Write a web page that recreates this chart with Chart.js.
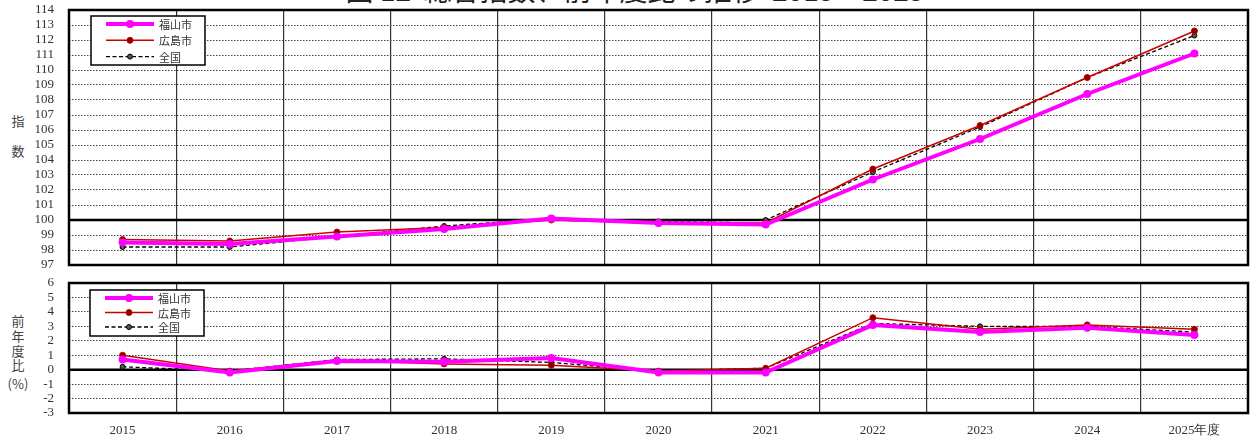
<!DOCTYPE html>
<html>
<head>
<meta charset="utf-8">
<script src="https://cdn.jsdelivr.net/npm/chart.js@4"></script>
<style>
  body { margin: 0; background: #fff; width: 1250px; height: 437px; overflow: hidden; position: relative; }
  canvas { position: absolute; left: 0; }
  .title { position: absolute; left: 10px; width: 1250px; top: -31px; line-height: 40px; text-align: center; font-size: 28px; font-family: "Noto Sans CJK JP", serif; color: #222; white-space: pre; }
  .ylab { position: absolute; left: 10px; width: 16px; text-align: center; font: 13px "Noto Sans CJK JP", sans-serif; color: #444; }
</style>
</head>
<body>
<div class="title">図 12  総合指数、前年度比の推移  2015～2025</div>
<div class="ylab" style="top:111px">指</div>
<div class="ylab" style="top:141px">数</div>
<div class="ylab" style="top:311px">前</div>
<div class="ylab" style="top:326px">年</div>
<div class="ylab" style="top:341px">度</div>
<div class="ylab" style="top:355px">比</div>
<div class="ylab" style="top:374px;left:4px;width:28px">(%)</div>
<canvas id="index-chart" width="1250" height="270" style="top:0"></canvas>
<canvas id="rate-chart" width="1250" height="167" style="top:270px"></canvas>
<script>
const years = ['2015', '2016', '2017', '2018', '2019', '2020', '2021', '2022', '2023', '2024', '2025年度'];
const seriesNames = ['福山市', '広島市', '全国'];

// 総合指数
const fukuyamaIndex = [98.5, 98.4, 98.9, 99.4, 100.1, 99.8, 99.7, 102.7, 105.4, 108.4, 111.1];
const hiroshimaIndex = [98.7, 98.6, 99.2, 99.5, 100.0, 99.8, 99.8, 103.4, 106.3, 109.5, 112.6];
const nationalIndex = [98.2, 98.2, 98.9, 99.6, 100.1, 99.9, 100.0, 103.2, 106.2, 109.5, 112.3];

// 前年度比 (%)
const fukuyamaRate = [0.7, -0.2, 0.6, 0.55, 0.8, -0.2, -0.2, 3.1, 2.6, 2.9, 2.4];
const hiroshimaRate = [1.0, -0.1, 0.65, 0.4, 0.3, -0.1, 0.1, 3.6, 2.8, 3.1, 2.8];
const nationalRate = [0.2, -0.1, 0.7, 0.75, 0.5, -0.1, 0.1, 3.2, 3.0, 3.0, 2.6];

const tickFont = { family: '"Liberation Serif", "DejaVu Serif", serif', size: 13 };

function makeDatasets(a, b, c) {
    return [
        {
            label: seriesNames[0], data: a,
            borderColor: '#ff00ff', backgroundColor: '#ff00ff',
            borderWidth: 4, pointRadius: 4, pointBorderWidth: 0, pointBackgroundColor: '#ff00ff'
        },
        {
            label: seriesNames[1], data: b,
            borderColor: '#cc0000', backgroundColor: '#cc0000',
            borderWidth: 1.5, pointRadius: 3, pointBorderWidth: 1,
            pointBackgroundColor: '#800000', pointBorderColor: '#cc0000'
        },
        {
            label: seriesNames[2], data: c,
            borderColor: '#000', backgroundColor: '#000',
            borderWidth: 1.3, borderDash: [4, 2.5], pointRadius: 2.5, pointBorderWidth: 1,
            pointBackgroundColor: '#555', pointBorderColor: '#000'
        }
    ];
}

// frame, base line and the boxed legend inside the plot
const framePlugin = {
    id: 'frame',
    beforeDatasetsDraw(chart, args, opts) {
        const { ctx, chartArea: a } = chart;
        const py = chart.scales.y.getPixelForValue(opts.baseLine);
        ctx.save();
        ctx.strokeStyle = '#000';
        ctx.lineWidth = 2.5;
        ctx.beginPath();
        ctx.moveTo(a.left, py);
        ctx.lineTo(a.right, py);
        ctx.stroke();
        ctx.strokeRect(a.left, a.top, a.right - a.left, a.bottom - a.top);
        ctx.restore();
    },
    afterDatasetsDraw(chart, args, opts) {
        const { ctx, chartArea: a } = chart;
        const bx = a.left + opts.x, by = a.top + opts.y;
        ctx.save();
        ctx.fillStyle = '#fff';
        ctx.fillRect(bx, by, opts.w, opts.h);
        ctx.strokeStyle = '#000';
        ctx.lineWidth = 1.5;
        ctx.strokeRect(bx, by, opts.w, opts.h);
        chart.data.datasets.forEach((ds, i) => {
            const ly = by + opts.firstRow + i * opts.rowH;
            const x1 = bx + 15, x2 = bx + 63;
            ctx.strokeStyle = ds.borderColor;
            ctx.lineWidth = ds.borderWidth;
            ctx.setLineDash(ds.borderDash || []);
            ctx.beginPath();
            ctx.moveTo(x1, ly);
            ctx.lineTo(x2, ly);
            ctx.stroke();
            ctx.setLineDash([]);
            ctx.beginPath();
            ctx.arc((x1 + x2) / 2, ly, ds.pointRadius, 0, Math.PI * 2);
            ctx.fillStyle = ds.pointBackgroundColor;
            ctx.fill();
            if (ds.pointBorderWidth) {
                ctx.lineWidth = ds.pointBorderWidth;
                ctx.strokeStyle = ds.pointBorderColor;
                ctx.stroke();
            }
            ctx.fillStyle = '#333';
            ctx.font = '11px "Noto Sans CJK JP", sans-serif';
            ctx.textBaseline = 'middle';
            ctx.fillText(ds.label, x2 + 5, ly + 1);
        });
        ctx.restore();
    }
};

function makeChart(canvasId, data, yMin, yMax, baseLine, showLabels, padding, legendBox) {
    const ctx = document.getElementById(canvasId).getContext('2d');
    return new Chart(ctx, {
        type: 'line',
        data: { labels: years, datasets: data },
        plugins: [framePlugin],
        options: {
            responsive: false,
            animation: false,
            layout: { padding: padding, autoPadding: false },
            plugins: {
                legend: { display: false },
                tooltip: { enabled: false },
                frame: Object.assign({ baseLine: baseLine }, legendBox)
            },
            scales: {
                x: {
                    offset: true,
                    grid: { offset: true, color: '#333', lineWidth: 1.2, drawTicks: false },
                    border: { display: false },
                    ticks: { display: showLabels, padding: 10, color: '#333', font: tickFont, maxRotation: 0 },
                    afterFit: s => {
                        s.height = showLabels ? 24 : 0;
                        s.paddingLeft = 0;
                        s.paddingRight = 0;
                    }
                },
                y: {
                    min: yMin, max: yMax,
                    grid: {
                        drawTicks: false, lineWidth: 1,
                        color: c => (c.tick && c.tick.value === baseLine) ? 'rgba(0,0,0,0)' : '#444'
                    },
                    border: { display: false, dash: [1.5, 1.5] },
                    ticks: { stepSize: 1, autoSkip: false, padding: 15, color: '#333', font: tickFont },
                    afterFit: s => {
                        s.width = 69;
                        s.paddingTop = 0;
                        s.paddingBottom = 0;
                    }
                }
            }
        }
    });
}

makeChart('index-chart', makeDatasets(fukuyamaIndex, hiroshimaIndex, nationalIndex),
    97, 114, 100, false, { top: 10, right: 2, bottom: 5, left: 0 },
    { x: 22, y: 6, w: 114, h: 49, firstRow: 8, rowH: 16.3 });

makeChart('rate-chart', makeDatasets(fukuyamaRate, hiroshimaRate, nationalRate),
    -3, 6, 0, true, { top: 13, right: 2, bottom: 0, left: 0 },
    { x: 21, y: 7, w: 114, h: 46, firstRow: 8, rowH: 14.5 });
</script>
</body>
</html>
